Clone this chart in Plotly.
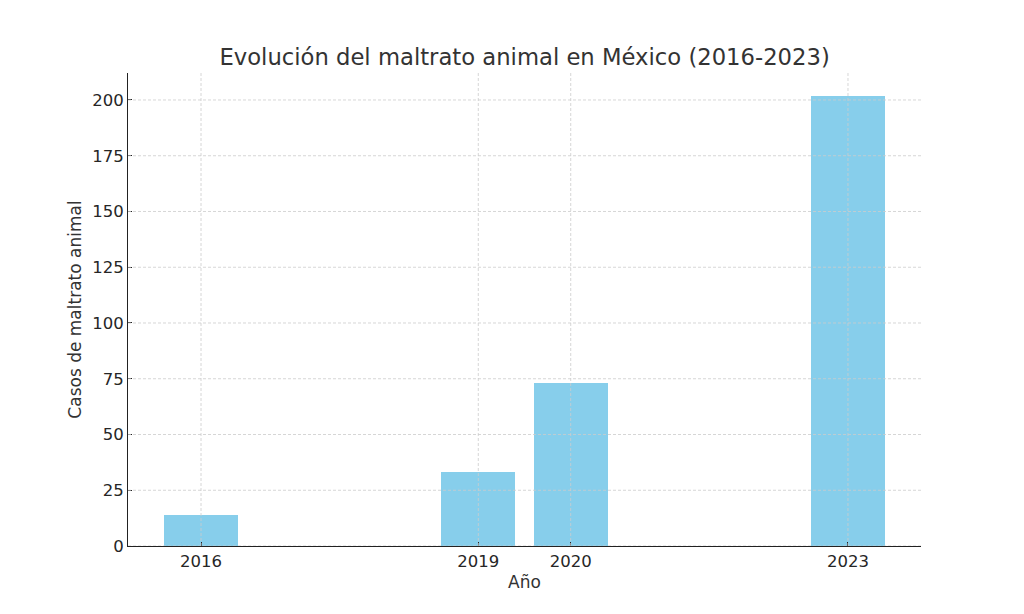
import plotly.graph_objects as go

# datos
years = [2016, 2019, 2020, 2023]
cases = [14, 33, 73, 202]
y_ticks = [0, 25, 50, 75, 100, 125, 150, 175, 200]

font_family = "DejaVu Sans, Verdana, sans-serif"

fig = go.Figure()
fig.add_trace(go.Bar(x=years, y=cases, width=0.8, marker_color="#87CEEB",
                     marker_line_width=0))

# grid dashed drawn above bars like matplotlib
grid = dict(color="#cccccc", width=0.8, dash="3px,2px")
for yv in y_ticks:
    fig.add_shape(type="line", xref="paper", yref="y", x0=0, x1=1, y0=yv, y1=yv,
                  line=grid, layer="above")
for xv in years:
    fig.add_shape(type="line", xref="x", yref="paper", x0=xv, x1=xv, y0=0, y1=1,
                  line=grid, layer="above")

fig.update_layout(
    width=1024, height=614,
    margin=dict(l=120, r=111, t=65, b=76),
    plot_bgcolor="white", paper_bgcolor="white",
    font=dict(family=font_family, size=16.5, color="#262626"),
    showlegend=False,
    title=dict(text="Evolución del maltrato animal en México (2016-2023)",
               x=0.5045, xanchor="center", y=0.92, yanchor="middle",
               font=dict(size=22.7, color="#333333")),
    bargap=0,
)
fig.update_xaxes(
    range=[2015.21, 2023.79], tickvals=years, ticktext=[str(y) for y in years],
    showgrid=False, zeroline=False,
    showline=True, linecolor="#222222", linewidth=1,
    ticks="inside", ticklen=4, tickcolor="#222222",
    title=dict(text="Año", standoff=6, font=dict(size=17, color="#333333")),
)
fig.update_yaxes(
    range=[0, 212.1], tickvals=y_ticks,
    showgrid=False, zeroline=False,
    showline=True, linecolor="#222222", linewidth=1,
    ticks="inside", ticklen=4, tickcolor="#222222",
    title=dict(text="Casos de maltrato animal", standoff=6,
               font=dict(size=17, color="#333333")),
)

fig.write_html("out.html")
